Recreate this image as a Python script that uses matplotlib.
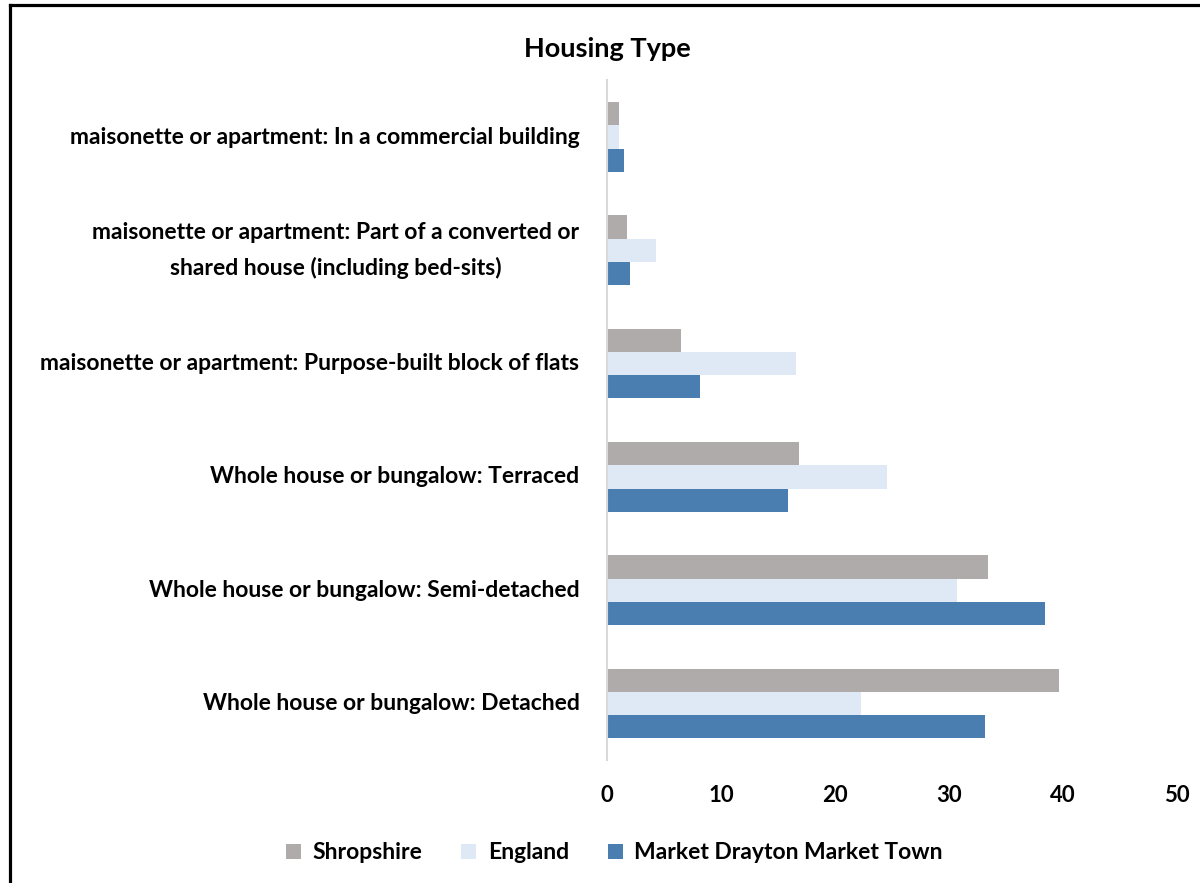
import matplotlib
matplotlib.use("Agg")
import matplotlib.pyplot as plt
from matplotlib.lines import Line2D
from matplotlib.patches import Patch
import numpy as np

plt.rcParams['font.family'] = ['Lato', 'DejaVu Sans']

categories = [
    "maisonette or apartment: In a commercial building",
    "maisonette or apartment: Part of a converted or\nshared house (including bed-sits)",
    "maisonette or apartment: Purpose-built block of flats",
    "Whole house or bungalow: Terraced",
    "Whole house or bungalow: Semi-detached",
    "Whole house or bungalow: Detached",
]
series_names = ["Shropshire", "England", "Market Drayton Market Town"]
shropshire = [1.0, 1.7, 6.5, 16.8, 33.4, 39.6]
england = [1.0, 4.3, 16.6, 24.5, 30.7, 22.3]
market_drayton = [1.5, 2.0, 8.1, 15.9, 38.4, 33.1]
colors = ["#afabab", "#dee9f5", "#4a7eb0"]

fig = plt.figure(figsize=(12, 8.83), dpi=100)
ax = fig.add_axes([0.506, 0.139, 0.475, 0.77])

y = np.arange(len(categories))  # 0 = top group
h = 0.205
for i, (vals, col, name) in enumerate(zip([shropshire, england, market_drayton], colors, series_names)):
    ax.barh(y + (i - 1) * h, vals, height=h, color=col, label=name)

ax.set_ylim(len(categories) - 0.5, -0.5)
ax.set_xlim(0, 50)
ax.set_xticks([0, 10, 20, 30, 40, 50])
ax.set_yticks(y)
ax.set_yticklabels(categories, fontsize=16.5, fontweight='bold', multialignment='center',
                   linespacing=1.8, va='center')
for lab in ax.get_xticklabels():
    lab.set_fontsize(16)
    lab.set_fontweight('bold')
ax.tick_params(axis='both', length=0)
ax.tick_params(axis='y', pad=20)
ax.tick_params(axis='x', pad=18)
for s in ['top', 'right', 'bottom']:
    ax.spines[s].set_visible(False)
ax.spines['left'].set_color('#d9d9d9')
ax.spines['left'].set_linewidth(1.5)

fig.text(0.506, 0.945, "Housing Type", ha='center', va='center', fontsize=19.5, fontweight='bold')

handles = [Patch(facecolor=c) for c in colors]
fig.legend(handles, series_names, loc='center', bbox_to_anchor=(0.512, 0.034), ncol=3,
           frameon=False, prop={'size': 16.5, 'weight': 'bold'},
           handlelength=0.65, handleheight=0.65, columnspacing=1.7, handletextpad=0.5)

# frame around the chart (left and top edges visible)
fig.add_artist(Line2D([10 / 1200, 10 / 1200], [0, 1 - 5 / 883], transform=fig.transFigure, color='black', lw=2.3))
fig.add_artist(Line2D([10 / 1200, 1], [1 - 5 / 883, 1 - 5 / 883], transform=fig.transFigure, color='black', lw=2.3))

fig.savefig("out.png", dpi=100)
